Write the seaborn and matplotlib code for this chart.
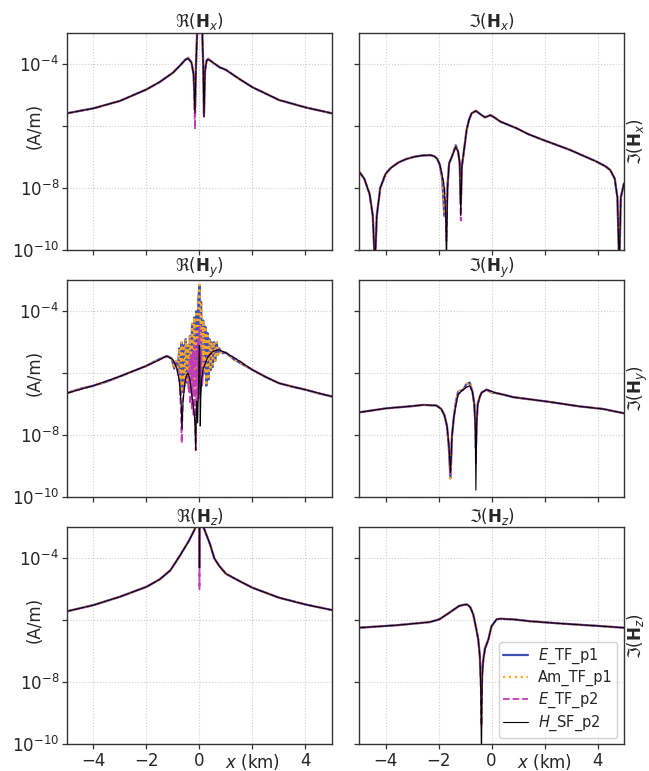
import numpy as np
import matplotlib
matplotlib.use("Agg")
import matplotlib.pyplot as plt
import seaborn as sns
from matplotlib.ticker import NullLocator

# ---------------- data (log10 of |H| in A/m) ----------------
series_names = [r"$E$_TF_p1", "Am_TF_p1", r"$E$_TF_p2", r"$H$_SF_p2"]
panel_titles = [r"$\Re(\mathbf{H}_x)$", r"$\Im(\mathbf{H}_x)$",
                r"$\Re(\mathbf{H}_y)$", r"$\Im(\mathbf{H}_y)$",
                r"$\Re(\mathbf{H}_z)$", r"$\Im(\mathbf{H}_z)$"]
xtick_vals = [-4, -2, 0, 2, 4]
xtick_labels = ["\u22124", "\u22122", "0", "", "4"]
ytick_vals = [1e-10, 1e-8, 1e-6, 1e-4]
ytick_labels = [r"$10^{-10}$", r"$10^{-8}$", "", r"$10^{-4}$"]

# Re(Hx)
x_rehx = [-5, -4, -3, -2, -1.5, -1, -0.7, -0.55, -0.43, -0.3, -0.22, -0.17, -0.13, -0.08, 0.0,
          0.1, 0.14, 0.17, 0.21, 0.27, 0.33, 0.5, 0.77, 1, 1.5, 2, 3, 4, 5]
y_rehx_sf = [-5.59, -5.43, -5.19, -4.82, -4.58, -4.28, -4.02, -3.88, -3.82, -3.95, -4.35, -5.58, -4.0, -2.8, -2.3,
             -2.8, -4.0, -5.7, -4.2, -3.9, -3.85, -3.95, -4.11, -4.19, -4.48, -4.75, -5.16, -5.40, -5.59]
y_rehx_p1 = [-5.59, -5.43, -5.19, -4.82, -4.58, -4.28, -4.02, -3.87, -3.80, -3.95, -4.35, -5.5, -4.0, -2.8, -2.3,
             -2.8, -4.0, -5.6, -4.2, -3.88, -3.83, -3.95, -4.11, -4.19, -4.48, -4.75, -5.16, -5.40, -5.59]
y_rehx_p2 = [-5.59, -5.43, -5.19, -4.82, -4.58, -4.28, -4.02, -3.88, -3.82, -3.95, -4.35, -6.1, -4.0, -2.8, -2.3,
             -2.8, -4.0, -5.7, -4.2, -3.9, -3.85, -3.95, -4.11, -4.19, -4.48, -4.75, -5.16, -5.40, -5.59]

# Im(Hx)
x_imhx = [-5, -4.8, -4.6, -4.48, -4.4, -4.33, -4.2, -4.0, -3.8, -3.5, -3.2, -2.9, -2.6, -2.3, -2.15,
          -2.05, -1.95, -1.86, -1.78, -1.73, -1.70, -1.66, -1.60, -1.50, -1.35, -1.26, -1.20, -1.16,
          -1.12, -1.07, -0.94, -0.85, -0.75, -0.59, -0.42, -0.25, -0.04, 0.1, 0.34, 0.94, 1.38, 1.95,
          2.96, 3.97, 4.3, 4.48, 4.65, 4.75, 4.82, 4.88, 5]
y_imhx_sf = [-7.47, -7.7, -8.2, -8.9, -10.5, -8.9, -8.0, -7.55, -7.35, -7.17, -7.06, -6.99, -6.95, -6.94, -6.98,
             -7.06, -7.25, -7.6, -8.0, -8.8, -10.5, -8.0, -7.2, -7.0, -6.67, -6.83, -7.2, -8.9,
             -7.3, -6.99, -6.13, -5.8, -5.59, -5.51, -5.62, -5.72, -5.65, -5.72, -5.86, -6.07, -6.26, -6.45,
             -6.77, -7.15, -7.3, -7.42, -7.7, -8.3, -10.5, -8.3, -7.85]
y_imhx_p1 = [-7.47, -7.7, -8.2, -8.9, -10.5, -8.9, -8.0, -7.55, -7.35, -7.17, -7.06, -6.99, -6.95, -6.94, -6.98,
             -7.06, -7.25, -7.7, -8.9, -8.9, -9.0, -7.9, -7.2, -7.0, -6.62, -6.83, -7.2, -8.5,
             -7.3, -6.99, -6.13, -5.8, -5.59, -5.51, -5.62, -5.72, -5.65, -5.72, -5.86, -6.07, -6.26, -6.45,
             -6.77, -7.15, -7.3, -7.42, -7.7, -8.3, -10.5, -8.3, -7.85]
y_imhx_p2 = [-7.47, -7.7, -8.2, -8.9, -10.5, -8.9, -8.0, -7.55, -7.35, -7.17, -7.06, -6.99, -6.95, -6.94, -6.98,
             -7.06, -7.25, -7.6, -8.0, -8.8, -9.7, -8.0, -7.2, -7.0, -6.67, -6.83, -7.2, -9.05,
             -7.3, -6.99, -6.13, -5.8, -5.59, -5.51, -5.62, -5.72, -5.65, -5.72, -5.86, -6.07, -6.26, -6.45,
             -6.77, -7.15, -7.3, -7.42, -7.7, -8.3, -10.5, -8.3, -7.85]

# Re(Hy)
x_rehy_p1 = [-5.0, -4.5, -4.0, -3.5, -3.0, -2.5, -2.0, -1.6, -1.4, -1.2, -1.05, -0.95, -0.88, -0.82,
             -0.76, -0.72, -0.68, -0.64, -0.60, -0.56, -0.52, -0.48, -0.44, -0.40, -0.36, -0.32,
             -0.28, -0.24, -0.20, -0.16, -0.12, -0.08, -0.04, 0.0, 0.03, 0.06, 0.10, 0.14, 0.18,
             0.22, 0.26, 0.30, 0.34, 0.38, 0.42, 0.46, 0.50, 0.55, 0.60, 0.65, 0.70, 0.75, 0.85,
             1.0, 1.3, 1.6, 2.0, 2.5, 3.0, 3.5, 4.0, 4.5, 5.0]
y_rehy_p1 = [-6.64, -6.50, -6.40, -6.27, -6.10, -5.93, -5.76, -5.58, -5.50, -5.45, -5.52, -5.85, -5.60, -5.90,
             -5.20, -6.70, -5.00, -6.60, -5.10, -6.40, -4.90, -6.30, -5.10, -6.50, -4.80, -6.20,
             -4.40, -6.60, -4.20, -6.40, -4.00, -5.80, -3.60, -3.15, -5.00, -3.70, -6.20, -4.30, -6.00,
             -4.50, -6.40, -4.70, -6.20, -4.90, -5.90, -5.00, -5.80, -5.00, -5.60, -5.00, -5.40, -5.20, -5.35,
             -5.34, -5.55, -5.70, -5.89, -6.12, -6.32, -6.43, -6.53, -6.65, -6.75]
x_rehy_p2 = [-5, -4, -3, -2, -1.5, -1.24, -1.0, -0.85, -0.75, -0.70, -0.67, -0.63, -0.55, -0.49,
             -0.43, -0.40, -0.37, -0.34, -0.31, -0.28, -0.25, -0.22, -0.19, -0.16, -0.14, -0.12,
             -0.09, -0.06, -0.03, 0.0, 0.03, 0.06, 0.1, 0.15, 0.2, 0.3, 0.39, 0.5, 0.71, 1.0, 1.5,
             2, 2.5, 3, 3.5, 4, 4.5, 5]
y_rehy_p2 = [-6.64, -6.40, -6.10, -5.76, -5.56, -5.44, -5.56, -5.85, -6.3, -7.2, -8.25, -6.9, -6.3, -6.05,
             -6.0, -6.6, -5.6, -7.0, -5.4, -7.2, -5.3, -7.4, -5.1, -7.3, -8.48, -5.2,
             -7.0, -4.9, -6.8, -4.5, -6.5, -5.3, -6.4, -5.9, -5.72, -5.5, -5.40, -5.3, -5.24, -5.34, -5.6,
             -5.89, -6.12, -6.32, -6.43, -6.53, -6.64, -6.75]
x_rehy_sf = [-5, -4, -3, -2, -1.5, -1.24, -1.0, -0.85, -0.75, -0.69, -0.66, -0.62, -0.55, -0.49,
             -0.43, -0.36, -0.31, -0.24, -0.18, -0.14, -0.12, -0.10, -0.07, -0.04, -0.01, 0.01, 0.03,
             0.05, 0.08, 0.14, 0.2, 0.3, 0.39, 0.5, 0.71, 1.0, 1.5, 2, 2.5, 3, 3.5, 4, 4.5, 5]
y_rehy_sf = [-6.64, -6.40, -6.10, -5.76, -5.56, -5.44, -5.56, -5.85, -6.3, -7.0, -7.8, -6.9, -6.3, -6.05,
             -6.0, -6.2, -6.55, -7.0, -7.5, -8.48, -7.2, -6.9, -7.6, -6.6, -5.1, -5.2, -7.7,
             -6.8, -6.21, -5.85, -5.72, -5.5, -5.40, -5.3, -5.24, -5.34, -5.6, -5.89, -6.12, -6.32, -6.43,
             -6.53, -6.64, -6.75]

# Im(Hy)
x_imhy = [-5, -3.96, -3.0, -2.58, -2.08, -1.9, -1.78, -1.68, -1.61, -1.55, -1.49, -1.42, -1.34, -1.26,
          -1.07, -0.95, -0.82, -0.72, -0.65, -0.61, -0.59, -0.56, -0.52, -0.44, -0.37, -0.19, 0.0,
          0.19, 0.5, 0.82, 1.08, 2.08, 3.34, 4.2, 5]
y_imhy_sf = [-7.26, -7.13, -7.06, -7.02, -7.04, -7.15, -7.35, -7.7, -8.3, -9.2, -8.0, -7.40, -7.0, -6.68,
             -6.53, -6.45, -6.40, -6.6, -7.0, -7.8, -9.77, -7.6, -7.0, -6.75, -6.62, -6.53, -6.58,
             -6.64, -6.7, -6.77, -6.8, -6.91, -7.07, -7.15, -7.29]
y_imhy_p1 = [-7.26, -7.13, -7.06, -7.02, -7.04, -7.15, -7.35, -7.7, -8.4, -9.39, -8.0, -7.40, -6.9, -6.6,
             -6.53, -6.35, -6.30, -6.6, -7.0, -7.6, -8.4, -7.5, -7.0, -6.75, -6.62, -6.53, -6.62,
             -6.64, -6.7, -6.77, -6.8, -6.91, -7.07, -7.15, -7.29]
y_imhy_p2 = [-7.26, -7.13, -7.06, -7.02, -7.04, -7.15, -7.35, -7.7, -8.3, -9.3, -8.0, -7.40, -7.0, -6.68,
             -6.53, -6.45, -6.40, -6.6, -7.0, -7.8, -8.9, -7.6, -7.0, -6.75, -6.62, -6.53, -6.58,
             -6.64, -6.7, -6.77, -6.8, -6.91, -7.07, -7.15, -7.29]

# Re(Hz)
x_rehz = [-5, -4, -3, -2, -1.5, -1.1, -0.75, -0.4, -0.2, -0.1, -0.03, -0.005, 0.0, 0.005, 0.03, 0.1,
          0.2, 0.4, 0.56, 0.75, 1.0, 1.5, 2, 3, 4, 5]
y_rehz_sf = [-5.71, -5.51, -5.24, -4.92, -4.68, -4.39, -3.93, -3.44, -3.1, -2.9, -2.5, -2.2, -4.3, -2.2,
             -2.5, -2.9, -3.1, -3.55, -4.0, -4.25, -4.5, -4.73, -4.95, -5.27, -5.49, -5.67]
y_rehz_p1 = [-5.71, -5.51, -5.24, -4.92, -4.68, -4.39, -3.93, -3.44, -3.1, -2.9, -2.5, -2.2, -4.3, -2.2,
             -2.5, -2.9, -3.1, -3.55, -4.0, -4.25, -4.5, -4.73, -4.95, -5.27, -5.49, -5.67]
y_rehz_p2 = [-5.71, -5.51, -5.24, -4.92, -4.68, -4.39, -3.93, -3.44, -3.1, -2.9, -2.5, -2.2, -5.0, -2.2,
             -2.5, -2.9, -3.1, -3.55, -4.0, -4.25, -4.5, -4.73, -4.95, -5.27, -5.49, -5.67]

# Im(Hz)
x_imhz = [-5, -3.6, -2.35, -1.97, -1.6, -1.23, -1.05, -0.92, -0.8, -0.69, -0.57, -0.5, -0.44, -0.41,
          -0.38, -0.35, -0.31, -0.25, -0.12, 0.0, 0.19, 0.32, 0.82, 1.45, 2.71, 4.0, 5]
y_imhz_sf = [-6.24, -6.16, -6.06, -5.97, -5.76, -5.54, -5.5, -5.49, -5.58, -5.81, -6.3, -6.62, -7.16, -8.0,
             -10.5, -7.8, -7.27, -6.95, -6.62, -6.19, -5.97, -5.95, -5.97, -6.03, -6.11, -6.18, -6.24]
y_imhz_p1 = [-6.24, -6.16, -6.06, -5.97, -5.76, -5.54, -5.5, -5.49, -5.58, -5.81, -6.3, -6.62, -7.16, -7.8,
             -8.4, -7.6, -7.27, -6.9, -6.62, -6.19, -5.97, -5.95, -5.97, -6.03, -6.11, -6.18, -6.24]
y_imhz_p2 = [-6.24, -6.16, -6.06, -5.97, -5.76, -5.54, -5.5, -5.49, -5.58, -5.81, -6.3, -6.62, -7.16, -8.0,
             -9.4, -7.8, -7.27, -6.95, -6.62, -6.19, -5.97, -5.95, -5.97, -6.03, -6.11, -6.18, -6.24]

# each panel: list of (x, y) for the four series, in legend order
panels = [
    [(x_rehx, y_rehx_p1), (x_rehx, y_rehx_p1), (x_rehx, y_rehx_p2), (x_rehx, y_rehx_sf)],
    [(x_imhx, y_imhx_p1), (x_imhx, y_imhx_p1), (x_imhx, y_imhx_p2), (x_imhx, y_imhx_sf)],
    [(x_rehy_p1, y_rehy_p1), (x_rehy_p1, y_rehy_p1), (x_rehy_p2, y_rehy_p2), (x_rehy_sf, y_rehy_sf)],
    [(x_imhy, y_imhy_p1), (x_imhy, y_imhy_p1), (x_imhy, y_imhy_p2), (x_imhy, y_imhy_sf)],
    [(x_rehz, y_rehz_p1), (x_rehz, y_rehz_p1), (x_rehz, y_rehz_p2), (x_rehz, y_rehz_sf)],
    [(x_imhz, y_imhz_p1), (x_imhz, y_imhz_p1), (x_imhz, y_imhz_p2), (x_imhz, y_imhz_sf)],
]

# ---------------- styling ----------------
sns.set_theme(style="ticks")
plt.rcParams["font.family"] = ["DejaVu Sans"]
plt.rcParams["mathtext.fontset"] = "dejavusans"

styles = [
    dict(color="#3f4fb8", linestyle="-", lw=1.6),
    dict(color="#ffa726", linestyle=":", lw=1.6),
    dict(color="#c03cb4", linestyle="--", lw=1.3),
    dict(color="black", linestyle="-", lw=0.8),
]

fig = plt.figure(figsize=(6.49, 7.71), dpi=100)
lefts = [0.1032, 0.5532]
bottoms = [0.6757, 0.3550, 0.0346]
w, h = 0.4083, 0.2815

axes = []
for r in range(3):
    for c in range(2):
        ax = fig.add_axes([lefts[c], bottoms[r], w, h])
        axes.append(ax)

for i, ax in enumerate(axes):
    r, c = divmod(i, 2)
    for (xs, ys), st, name in zip(panels[i], styles, series_names):
        sns.lineplot(x=np.array(xs), y=10.0 ** np.array(ys), ax=ax, sort=False,
                     estimator=None, label=name, legend=False, **st)
    ax.set_yscale("log")
    ax.set_xlim(-5, 5)
    ax.set_ylim(1e-10, 1e-3)
    ax.set_yticks(ytick_vals)
    ax.yaxis.set_minor_locator(NullLocator())
    ax.set_xticks(xtick_vals)
    ax.grid(True, which="major", linestyle=":", color="0.8", lw=0.8)
    ax.tick_params(axis="both", labelsize=12, length=3.6, width=0.9, color="0.2", pad=2)
    for sp in ax.spines.values():
        sp.set_color("0.2")
        sp.set_linewidth(1.0)
    ax.set_title(panel_titles[i], fontsize=12, pad=4)
    if c == 0:
        ax.set_yticklabels(ytick_labels)
        ax.set_ylabel("(A/m)", fontsize=12)
        ax.yaxis.set_label_coords(-0.09, 0.571)
    else:
        ax.tick_params(labelleft=False)
        ax.yaxis.set_label_position("right")
        ax.set_ylabel(panel_titles[i].replace(r"\Re", r"\Im"), fontsize=12, labelpad=1)
    if r == 2:
        ax.set_xticklabels(xtick_labels)
        ax.set_xlabel(r"$x$ (km)", fontsize=12)
        ax.xaxis.set_label_coords(0.7, -0.034)
    else:
        ax.tick_params(labelbottom=False)

leg = axes[5].legend(loc="lower right", fontsize=10.5, framealpha=0.85, handlelength=1.7,
                     labelspacing=0.28, borderpad=0.3, handletextpad=0.7, borderaxespad=0.45)

fig.savefig("out.png", dpi=100)
